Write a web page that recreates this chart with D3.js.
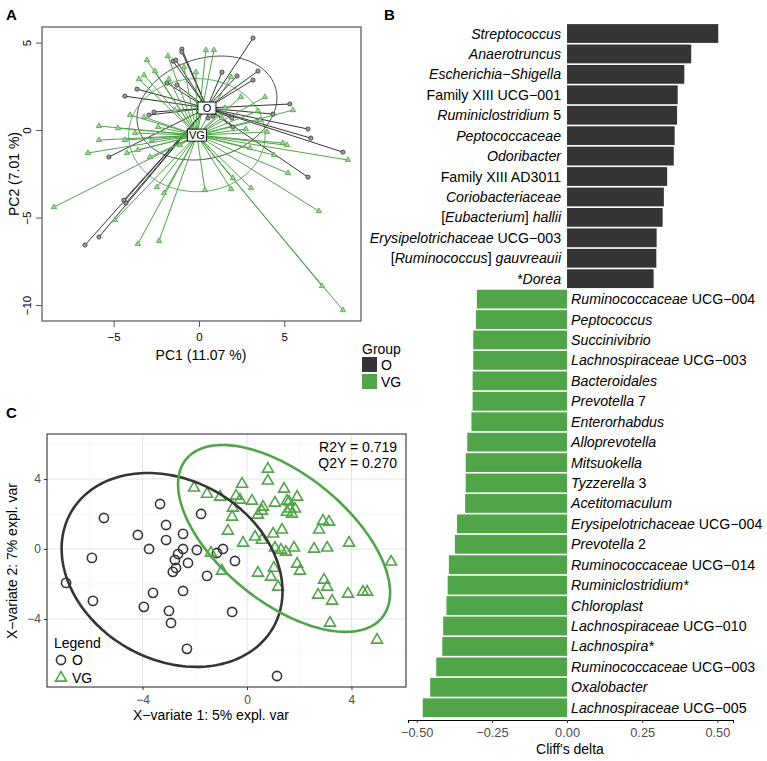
<!DOCTYPE html>
<html><head><meta charset="utf-8">
<script src="https://cdn.jsdelivr.net/npm/d3@7"></script>
<style>
body{margin:0;background:#fff}
svg{display:block}
text{font-family:"Liberation Sans",Arial,sans-serif;white-space:pre}
</style>
</head><body>
<svg id="chart" width="767" height="761"></svg>
<script>
// ---------- Panel A: PCA (s.class) ----------
const pcaO_x = [3.17,-1.0,-1.0,-1.52,-1.35,1.35,2.23,3.46,3.17,-1.88,-1.29,-3.63,-4.34,5.33,-2.64,-2.93,4.34,0.53,1.93,1.99,-5.28,-4.40,-4.28,-5.86,-6.68,6.39,6.56,8.44,6.39,0.82];
const pcaO_y = [5.26,4.63,4.46,3.94,4.0,3.31,3.09,3.37,2.86,2.69,2.57,2.34,1.94,1.49,1.03,0.86,0.91,0.69,0.69,0.17,-1.54,-4.0,-4.17,-6.11,-6.57,0.06,-0.46,-1.26,-2.69,0.8];
const pcaVG_x = [0.41,0.88,-1.82,-3.05,-2.58,-0.88,-0.18,-3.22,-3.52,-1.76,1.88,3.87,2.46,5.51,3.46,-3.22,-5.86,-4.75,-3.75,-2.4,2.75,3.99,-5.86,-4.34,-2.75,-6.51,-4.22,-3.58,-2.87,4.92,5.16,2.99,4.4,5.22,-2.46,-2.05,0.35,1.88,3.05,-8.5,-4.92,-3.58,-2.34,8.73,7.03,7.21,8.44,1.99,-1.41,1.52,1.35,-1.11,-4.04,3.58];
const pcaVG_y = [4.57,4.57,4.23,4.0,3.37,3.6,3.31,3.14,2.91,2.91,3.03,1.89,1.89,1.14,1.09,0.74,0.23,0.11,-0.17,0.17,0.06,-0.11,-0.57,-0.57,-0.57,-1.31,-1.31,-1.14,-1.54,-0.74,-0.86,-1.03,-1.43,-2.46,-3.26,-3.6,-3.43,-3.37,-3.31,-4.4,-5.14,-6.51,-6.34,-1.71,-4.63,-8.91,-10.29,-2.74,1.14,1.26,0.69,-0.86,0.86,0.57];
const pcaGroups = ["O","VG"];
const pcaCentroidX = [0.47,-0.12];
const pcaCentroidY = [1.26,-0.29];
const pcaEllHX = [4.1,4.0];
const pcaEllHY = [2.97,3.23];
const pcaEllR = [0.2,0.0];
const pcaXTicks = [-5,0,5];
const pcaYTicks = [-10,-5,0,5];

// ---------- Panel B: Cliff's delta ----------
const taxaO = ["_Streptococcus_","_Anaerotruncus_","_Escherichia−Shigella_","Family XIII UCG−001","_Ruminiclostridium_ 5","_Peptococcaceae_","_Odoribacter_","Family XIII AD3011","_Coriobacteriaceae_","[_Eubacterium_] _hallii_","_Erysipelotrichaceae_ UCG−003","[_Ruminococcus_] _gauvreauii_","_*Dorea_"];
const deltaO = [0.503,0.413,0.390,0.368,0.366,0.358,0.355,0.333,0.322,0.318,0.298,0.297,0.288];
const taxaVG = ["_Ruminococcaceae_ UCG−004","_Peptococcus_","_Succinivibrio_","_Lachnospiraceae_ UCG−003","_Bacteroidales_","_Prevotella_ 7","_Enterorhabdus_","_Alloprevotella_","_Mitsuokella_","_Tyzzerella_ 3","_Acetitomaculum_","_Erysipelotrichaceae_ UCG−004","_Prevotella_ 2","_Ruminococcaceae_ UCG−014","_Ruminiclostridium*_","_Chloroplast_","_Lachnospiraceae_ UCG−010","_Lachnospira*_","_Ruminococcaceae_ UCG−003","_Oxalobacter_","_Lachnospiraceae_ UCG−005"];
const deltaVG = [-0.300,-0.303,-0.312,-0.312,-0.314,-0.314,-0.318,-0.332,-0.337,-0.337,-0.339,-0.366,-0.373,-0.393,-0.397,-0.401,-0.412,-0.415,-0.435,-0.455,-0.480];
const deltaTicks = [-0.5,-0.25,0,0.25,0.5];
const deltaTickLabels = ["−0.50","−0.25","0.00","0.25","0.50"];

// ---------- Panel C: PLS-DA ----------
const plsO_x = [-3.33,-5.48,-1.76,-3.10,-4.18,-2.45,-3.10,-3.75,-2.45,-1.92,-2.64,-2.76,-2.26,-1.15,-0.92,-0.46,-5.94,-2.72,-2.84,-1.53,-6.93,-3.60,-2.45,-5.90,-3.95,-2.99,-2.91,-0.57,-2.30,1.15];
const plsO_y = [2.57,1.77,2.0,1.37,0.8,0.86,0.51,0.0,0.0,-0.06,-0.29,-0.63,-0.8,-0.23,0.0,-0.69,-0.51,-1.09,-1.31,-1.54,-1.94,-2.51,-2.4,-2.97,-3.31,-3.54,-4.23,-3.6,-5.71,-7.26];
const plsVG_x = [-2.03,-1.53,-1.03,-0.42,-0.27,-0.19,0.19,0.80,0.80,1.42,1.92,1.53,1.07,0.61,0.57,0.42,-0.54,-0.57,-0.73,-0.15,0.31,0.57,1.0,1.34,1.65,1.72,1.84,1.07,1.30,1.49,1.80,2.57,3.07,3.91,2.76,2.91,3.14,5.52,-1.38,-0.96,0.42,0.92,1.03,1.92,2.03,1.19,2.95,3.07,2.72,3.26,3.87,4.44,4.60,3.18,4.98,1.61,1.53];
const plsVG_y = [3.49,3.14,2.97,3.03,2.8,3.71,2.74,4.57,3.89,3.43,2.97,2.74,2.63,2.4,2.17,1.94,2.34,1.83,1.03,0.34,0.69,0.51,0.86,1.09,2.29,2.0,2.29,0.06,-0.06,-0.17,0.06,0.0,0.06,0.34,1.09,1.6,1.54,-0.74,-0.23,-1.26,-1.37,-1.6,-1.09,-0.86,-1.26,-2.17,-1.77,-2.17,-2.63,-2.97,-2.57,-2.46,-2.46,-4.23,-5.2,2.69,2.11];
const plsEllCX = [-2.87,1.42];
const plsEllCY = [-1.2,0.6];
const plsEllHX = [4.23,4.06];
const plsEllHY = [5.54,5.34];
const plsEllR = [-0.22,-0.58];
const plsMajorTicks = [-4,0,4];
const plsMinorTicks = [-6,-2,2,6];
const plsStats = ["R2Y = 0.719","Q2Y = 0.270"];

// ---------- drawing ----------
const DARK = "#353535", GREEN = "#4fa548", FONT = "Liberation Sans, Arial, sans-serif";
const svg = d3.select("#chart");
svg.append("rect").attr("width",767).attr("height",761).attr("fill","#fff");

function rich(sel, str){
  str.split("_").forEach((p,i)=>{ if(p==="") return; sel.append("tspan").attr("font-style", i%2 ? "italic" : "normal").text(p); });
}
function ellipsePts(cx,cy,hx,hy,r){
  const s = Math.sqrt(1-r*r);
  return d3.range(0,201).map(i=>{ const t=i/200*2*Math.PI; return [cx+hx*Math.cos(t), cy+hy*(r*Math.cos(t)+s*Math.sin(t))]; });
}

// Panel labels
[["A",6,20],["B",384,20],["C",6,418]].forEach(([t,x,y])=>svg.append("text").attr("x",x).attr("y",y).attr("font-size",15).attr("font-weight","bold").text(t));

// ===== Panel A =====
{
  const x = d3.scaleLinear().domain([-9.2,9.5]).range([42,361]);
  const y = d3.scaleLinear().domain([-10.91,5.89]).range([321,27]);
  const g = svg.append("g");
  const cols = [DARK, GREEN];
  const sets = [[pcaO_x,pcaO_y],[pcaVG_x,pcaVG_y]];
  [0,1].forEach(k=>{
    g.append("path").attr("d", d3.line().x(d=>x(d[0])).y(d=>y(d[1])).curve(d3.curveLinearClosed)(ellipsePts(pcaCentroidX[k],pcaCentroidY[k],pcaEllHX[k],pcaEllHY[k],pcaEllR[k])))
      .attr("fill","none").attr("stroke",cols[k]).attr("stroke-width",0.9);
  });
  [0,1].forEach(k=>{
    const [xs,ys] = sets[k];
    xs.forEach((v,i)=>g.append("line").attr("x1",x(pcaCentroidX[k])).attr("y1",y(pcaCentroidY[k])).attr("x2",x(v)).attr("y2",y(ys[i]))
      .attr("stroke",cols[k]).attr("stroke-width",1));
  });
  pcaO_x.forEach((v,i)=>g.append("circle").attr("cx",x(v)).attr("cy",y(pcaO_y[i])).attr("r",2.1).attr("fill","#9a9a9a").attr("stroke",DARK).attr("stroke-width",0.8));
  const tri = d3.symbol(d3.symbolTriangle, 13);
  pcaVG_x.forEach((v,i)=>g.append("path").attr("d",tri()).attr("transform",`translate(${x(v)},${y(pcaVG_y[i])})`).attr("fill","#9fd199").attr("stroke",GREEN).attr("stroke-width",0.8));
  [0,1].forEach(k=>{
    const w = pcaGroups[k].length>1 ? 19 : 18;
    g.append("rect").attr("x",x(pcaCentroidX[k])-w/2).attr("y",y(pcaCentroidY[k])-6).attr("width",w).attr("height",12).attr("fill","#fff").attr("stroke","#000").attr("stroke-width",0.9);
    g.append("text").attr("x",x(pcaCentroidX[k])).attr("y",y(pcaCentroidY[k])+4).attr("text-anchor","middle").attr("font-size",11).text(pcaGroups[k]);
  });
  g.append("rect").attr("x",42).attr("y",27).attr("width",319).attr("height",294).attr("fill","none").attr("stroke","#555").attr("stroke-width",1.2);
  const ax = g.append("g").attr("transform","translate(0,321)").call(d3.axisBottom(x).tickValues(pcaXTicks).tickSize(6).tickFormat(d=>d<0?"−"+(-d):d));
  ax.select(".domain").remove();
  ax.selectAll("line").attr("stroke","#555");
  ax.selectAll("text").attr("font-size",11.5).attr("font-family",FONT).attr("fill","#000").attr("dy","0.95em");
  const ay = g.append("g").attr("transform","translate(42,0)").call(d3.axisLeft(y).tickValues(pcaYTicks).tickSize(6).tickFormat(d=>d<0?"−"+(-d):d));
  ay.select(".domain").remove();
  ay.selectAll("line").attr("stroke","#555");
  ay.selectAll("text").attr("font-size",11.5).attr("font-family",FONT).attr("fill","#000")
    .attr("transform","rotate(-90)").attr("text-anchor","middle").attr("x",0).attr("y",-11).attr("dy",0);
  g.append("text").attr("x",201).attr("y",360).attr("text-anchor","middle").attr("font-size",14).text("PC1 (11.07 %)");
  g.append("text").attr("transform","translate(19,174) rotate(-90)").attr("text-anchor","middle").attr("font-size",14).text("PC2 (7.01 %)");
}

// ===== Group legend =====
{
  const g = svg.append("g");
  g.append("text").attr("x",362).attr("y",354).attr("font-size",14).text("Group");
  [[DARK,"O"],[GREEN,"VG"]].forEach(([c,t],i)=>{
    g.append("rect").attr("x",362).attr("y",357+i*17).attr("width",15).attr("height",15).attr("fill",c);
    g.append("text").attr("x",381).attr("y",370+i*17).attr("font-size",14).text(t);
  });
}

// ===== Panel B =====
{
  const labels = taxaO.concat(taxaVG);
  const vals = deltaO.concat(deltaVG);
  const x = d3.scaleLinear().domain([-0.529,0.552]).range([408,733]);
  const y = d3.scaleBand().domain(d3.range(labels.length)).range([21.25,720]).paddingInner(0.08).paddingOuter(0.14);
  const g = svg.append("g");
  vals.forEach((v,i)=>{
    g.append("rect").attr("x",Math.min(x(0),x(v))).attr("width",Math.abs(x(v)-x(0))).attr("y",y(i)).attr("height",y.bandwidth())
      .attr("fill", v>0 ? DARK : GREEN);
    const t = g.append("text").attr("y",y(i)+y.bandwidth()/2+5).attr("font-size",14.2)
      .attr("x", v>0 ? x(0)-6 : x(0)+4).attr("text-anchor", v>0 ? "end" : "start");
    rich(t, labels[i]);
  });
  const ax = g.append("g").attr("transform","translate(0,720)").call(d3.axisBottom(x).tickValues(deltaTicks).tickSize(3).tickFormat((d,i)=>deltaTickLabels[i]));
  ax.select(".domain").attr("stroke","#000").attr("stroke-width",1.1);
  ax.selectAll(".tick line").attr("stroke","#333");
  ax.selectAll("text").attr("font-size",12.8).attr("font-family",FONT).attr("fill","#4d4d4d").attr("dy","0.85em");
  g.append("text").attr("x",570).attr("y",754).attr("text-anchor","middle").attr("font-size",14).text("Cliff's delta");
}

// ===== Panel C =====
{
  const x = d3.scaleLinear().domain([-7.66,6.09]).range([47,406]);
  const y = d3.scaleLinear().domain([-7.89,6.57]).range([687,434]);
  const g = svg.append("g");
  svg.append("clipPath").attr("id","clipC").append("rect").attr("x",47).attr("y",434).attr("width",359).attr("height",253);
  const p = g.append("g").attr("clip-path","url(#clipC)");
  plsMinorTicks.forEach(t=>{
    p.append("line").attr("x1",x(t)).attr("x2",x(t)).attr("y1",434).attr("y2",687).attr("stroke","#f0f0f0").attr("stroke-width",0.6);
    p.append("line").attr("y1",y(t)).attr("y2",y(t)).attr("x1",47).attr("x2",406).attr("stroke","#f0f0f0").attr("stroke-width",0.6);
  });
  plsMajorTicks.forEach(t=>{
    p.append("line").attr("x1",x(t)).attr("x2",x(t)).attr("y1",434).attr("y2",687).attr("stroke","#e6e6e6").attr("stroke-width",1.1);
    p.append("line").attr("y1",y(t)).attr("y2",y(t)).attr("x1",47).attr("x2",406).attr("stroke","#e6e6e6").attr("stroke-width",1.1);
  });
  plsO_x.forEach((v,i)=>p.append("circle").attr("cx",x(v)).attr("cy",y(plsO_y[i])).attr("r",4.6).attr("fill","none").attr("stroke",DARK).attr("stroke-width",1.6));
  const tri = d3.symbol(d3.symbolTriangle, 52);
  plsVG_x.forEach((v,i)=>p.append("path").attr("d",tri()).attr("transform",`translate(${x(v)},${y(plsVG_y[i])})`).attr("fill","none").attr("stroke",GREEN).attr("stroke-width",1.6));
  [0,1].forEach(k=>{
    p.append("path").attr("d", d3.line().x(d=>x(d[0])).y(d=>y(d[1])).curve(d3.curveLinearClosed)(ellipsePts(plsEllCX[k],plsEllCY[k],plsEllHX[k],plsEllHY[k],plsEllR[k])))
      .attr("fill","none").attr("stroke",k===0?DARK:GREEN).attr("stroke-width",2.6);
  });
  g.append("rect").attr("x",47).attr("y",434).attr("width",359).attr("height",253).attr("fill","none").attr("stroke","#333").attr("stroke-width",1.1);
  const ax = g.append("g").attr("transform","translate(0,687)").call(d3.axisBottom(x).tickValues(plsMajorTicks).tickSize(3).tickFormat(d=>d<0?"−"+(-d):d));
  ax.select(".domain").remove();
  ax.selectAll("line").attr("stroke","#333");
  ax.selectAll("text").attr("font-size",12).attr("font-family",FONT).attr("fill","#4d4d4d").attr("dy","0.9em");
  const ay = g.append("g").attr("transform","translate(47,0)").call(d3.axisLeft(y).tickValues(plsMajorTicks).tickSize(3).tickFormat(d=>d<0?"−"+(-d):d));
  ay.select(".domain").remove();
  ay.selectAll("line").attr("stroke","#333");
  ay.selectAll("text").attr("font-size",12).attr("font-family",FONT).attr("fill","#4d4d4d");
  g.append("text").attr("x",211).attr("y",720).attr("text-anchor","middle").attr("font-size",14).text("X−variate 1: 5% expl. var");
  g.append("text").attr("transform","translate(17,561) rotate(-90)").attr("text-anchor","middle").attr("font-size",14).text("X−variate 2: 7% expl. var");
  plsStats.forEach((s,i)=>g.append("text").attr("x",397).attr("y",452+i*15.5).attr("text-anchor","end").attr("font-size",14).text(s));
  g.append("text").attr("x",54).attr("y",648).attr("font-size",14).text("Legend");
  g.append("circle").attr("cx",61).attr("cy",660).attr("r",4.6).attr("fill","none").attr("stroke",DARK).attr("stroke-width",1.6);
  g.append("text").attr("x",72).attr("y",665).attr("font-size",14).text("O");
  g.append("path").attr("d",tri()).attr("transform","translate(61,678)").attr("fill","none").attr("stroke",GREEN).attr("stroke-width",1.6);
  g.append("text").attr("x",72).attr("y",683).attr("font-size",14).text("VG");
}
</script>
</body></html>
